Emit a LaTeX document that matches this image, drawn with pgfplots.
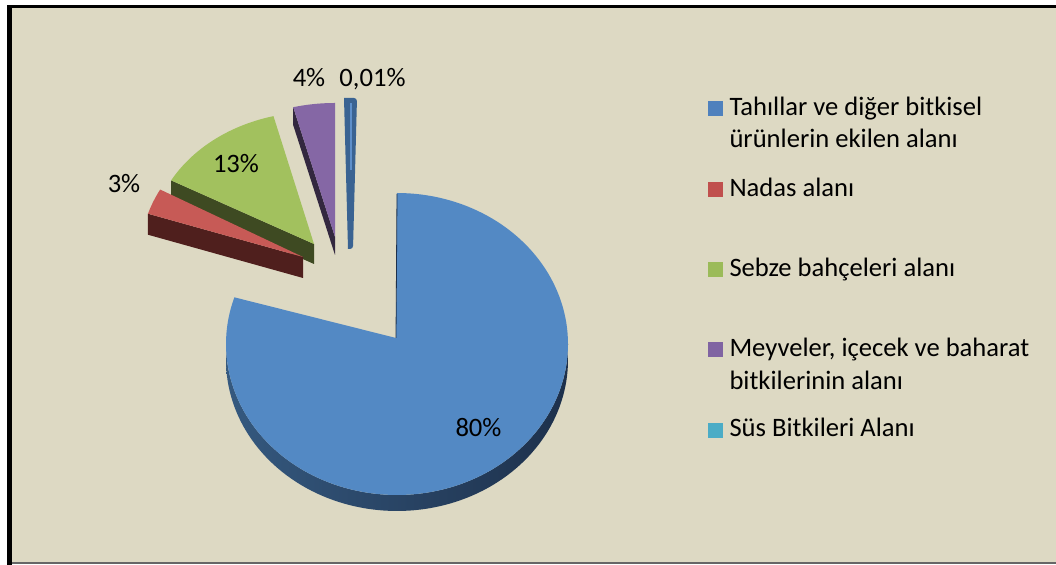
\documentclass[border=0pt]{standalone}
\usepackage{fontspec}
\setmainfont{Carlito}
\usepackage{pgfplots}
\pgfplotsset{compat=1.18}
\definecolor{bgc}{HTML}{DDD9C3}
\definecolor{blueTop}{HTML}{5389C4}
\definecolor{blueSideL}{HTML}{35597F}
\definecolor{blueSideR}{HTML}{1D304B}
\definecolor{redTop}{HTML}{C75A56}
\definecolor{redSide}{HTML}{4F1F1D}
\definecolor{greenTop}{HTML}{A2C15E}
\definecolor{greenSide}{HTML}{3E4A22}
\definecolor{purpleTop}{HTML}{8567A5}
\definecolor{purpleSide}{HTML}{33283F}
\definecolor{sliverC}{HTML}{3A6392}
\definecolor{sliverHi}{HTML}{5D8FCB}
\definecolor{legBlue}{HTML}{4F81BD}
\definecolor{legRed}{HTML}{C0504D}
\definecolor{legGreen}{HTML}{9BBB59}
\definecolor{legPurple}{HTML}{8064A2}
\definecolor{legCyan}{HTML}{4BACC6}
\tikzset{lbl/.style={font=\fontsize{13.3}{16}\selectfont, inner sep=0pt, outer sep=0pt, text=black}}
% data (percent)
\def\vTah{80}\def\vNad{3}\def\vSeb{13}\def\vMey{4}\def\vSus{0.01}
% slice: apx apy rx ry a1 a2 depth topcolor sidecolor
\newcommand\slice[9]{%
  \pgfmathsetmacro\qx{#1+#3*cos(#6)}%
  \pgfmathsetmacro\qy{#2-#4*sin(#6)}%
  \pgfmathsetmacro\qyd{\qy+#7}%
  \pgfmathsetmacro\pyd{#2+#7}%
  \edef\temp{\noexpand\addplot[draw=none,fill=#9] coordinates {(#1,#2) (\qx,\qy) (\qx,\qyd) (#1,\pyd)};}%
  \temp
  \addplot[draw=none,fill=#8,domain=#5:#6,samples=60] ({#1+#3*cos(x)},{#2-#4*sin(x)}) -- (axis cs:#1,#2) -- cycle;
}
\begin{document}
\begin{tikzpicture}
\pgfmathsetmacro\aStart{90-3.6*\vTah}
\pgfmathsetmacro\aRed{\aStart-3.6*\vNad}
\pgfmathsetmacro\aGreen{\aRed-3.6*\vSeb}
\pgfmathsetmacro\aPurple{\aGreen-3.6*\vMey}
\begin{axis}[
  width=528pt, height=282.5pt, scale only axis,
  xmin=0, xmax=1056, ymin=0, ymax=565, y dir=reverse,
  axis line style={draw=none}, ticks=none,
  axis background/.style={fill=white},
  clip=true,
]
% frame
\fill[bgc] (axis cs:12,8) rectangle (axis cs:1056,562.5);
\fill[black] (axis cs:7,5) rectangle (axis cs:1056,8);
\fill[black] (axis cs:7,5) rectangle (axis cs:12,565);
\fill[black!60] (axis cs:12,562.3) rectangle (axis cs:1056,563.6);
% exploded slices (back to front)
\slice{335}{237}{168}{134}{\aPurple}{\aGreen}{18}{purpleTop}{purpleSide}
\slice{314}{244}{163}{132}{\aGreen}{\aRed}{20}{greenTop}{greenSide}
\slice{303}{257}{163}{140}{\aRed}{\aStart}{21}{redTop}{redSide}
% 0,01% sliver
\addplot[draw=none, fill=sliverC, rounded corners=1.5pt] coordinates {(344,98) (357,98) (353,249) (348,249)};
\addplot[draw=sliverHi, line width=1pt] coordinates {(350.5,103) (350.5,170)};
% big slice: side then top
\addplot[draw=none, left color=blueSideL, right color=blueSideR, domain=180:540, samples=181]
  ({397+171*cos(x<360.5 ? x : 720-x)}, {344-151*sin(x<360.5 ? x : 720-x)+(x<360.5 ? 0 : 16)});
\addplot[draw=none, fill=blueTop, domain=\aStart:90, samples=145]
  ({397+171*cos(x)},{344-151*sin(x)}) -- (axis cs:396,338) -- cycle;
\addplot[draw=blueSideR, line width=0.4pt] coordinates {(396,338) (397,194)};
% data labels
\node[lbl, anchor=base] at (axis cs:478.5,437) {80\%};
\node[lbl, anchor=base] at (axis cs:236,173) {13\%};
\node[lbl, anchor=base] at (axis cs:124,193) {3\%};
\node[lbl, anchor=base] at (axis cs:309,87) {4\%};
\node[lbl, anchor=base] at (axis cs:372.5,87) {0,01\%};
% legend
\fill[legBlue]   (axis cs:708,101) rectangle (axis cs:723,116);
\fill[legRed]    (axis cs:708,182) rectangle (axis cs:723,197);
\fill[legGreen]  (axis cs:708,262) rectangle (axis cs:723,277);
\fill[legPurple] (axis cs:708,342) rectangle (axis cs:723,357);
\fill[legCyan]   (axis cs:708,423) rectangle (axis cs:723,438);
\node[lbl, anchor=base west] at (axis cs:729.5,116) {Tahıllar ve diğer bitkisel};
\node[lbl, anchor=base west] at (axis cs:729.5,148) {ürünlerin ekilen alanı};
\node[lbl, anchor=base west] at (axis cs:729.5,197) {Nadas alanı};
\node[lbl, anchor=base west] at (axis cs:729.5,277) {Sebze bahçeleri alanı};
\node[lbl, anchor=base west] at (axis cs:729.5,357) {Meyveler, içecek ve baharat};
\node[lbl, anchor=base west] at (axis cs:729.5,390) {bitkilerinin alanı};
\node[lbl, anchor=base west] at (axis cs:729.5,437) {Süs Bitkileri Alanı};
\end{axis}
\end{tikzpicture}
\end{document}
